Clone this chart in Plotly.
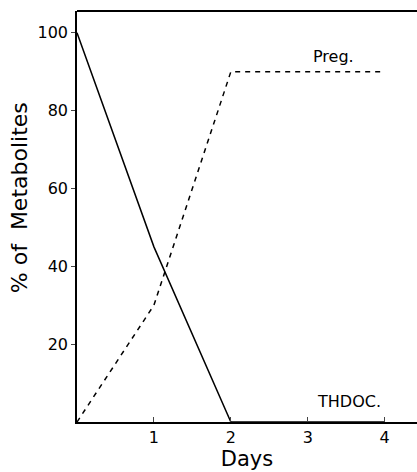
import plotly.graph_objects as go

days = [0, 1, 2, 4]
thdoc = [100, 45, 0, 0]
preg = [0, 30, 90, 90]
x_ticks = [1, 2, 3, 4]
y_ticks = [20, 40, 60, 80, 100]

fig = go.Figure()
fig.add_trace(go.Scatter(x=days, y=thdoc, mode="lines",
                         line=dict(color="black", width=1.5), showlegend=False))
fig.add_trace(go.Scatter(x=days, y=preg, mode="lines",
                         line=dict(color="black", width=1.5, dash="5px,5px"), showlegend=False))

fig.add_annotation(x=3.33, y=94, text="Preg.", showarrow=False,
                   font=dict(size=16, color="black", family="DejaVu Sans"))
fig.add_annotation(x=3.54, y=5.2, text="THDOC.", showarrow=False,
                   font=dict(size=16, color="black", family="DejaVu Sans"))
fig.add_annotation(xref="paper", yref="paper", x=-0.17, y=0.545, text="% of  Metabolites",
                   textangle=-90, showarrow=False, xanchor="center", yanchor="middle",
                   font=dict(size=22, color="black", family="DejaVu Sans"))

fig.add_shape(type="line", xref="paper", yref="paper", x0=0, x1=1, y0=1, y1=1,
              line=dict(color="black", width=2))

fig.update_layout(
    width=417, height=472,
    margin=dict(l=77, r=0, t=11, b=50),
    paper_bgcolor="white", plot_bgcolor="white",
    font=dict(family="DejaVu Sans", color="black"),
    xaxis=dict(range=[0, 4.42], tickvals=x_ticks, ticks="inside", ticklen=5,
               showline=True, linecolor="black", linewidth=2,
               showgrid=False, zeroline=False, tickfont=dict(size=16),
               title=dict(text="Days", font=dict(size=21), standoff=3)),
    yaxis=dict(range=[0, 105.6], tickvals=y_ticks, ticks="outside", ticklen=4,
               showline=True, linecolor="black", linewidth=1.5,
               showgrid=False, zeroline=False, tickfont=dict(size=16)),
)

fig.write_html("out.html")
